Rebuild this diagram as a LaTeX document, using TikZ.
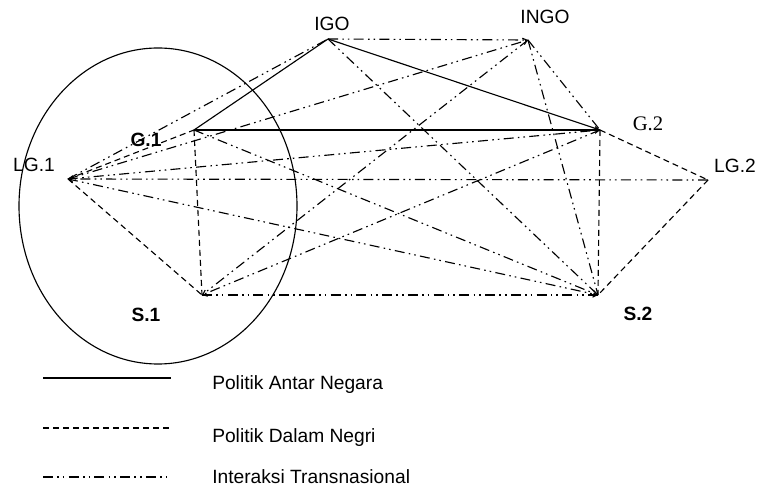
\documentclass[tikz,border=0pt]{standalone}
\usepackage{fontspec}
\setmainfont{Liberation Sans}
\newfontfamily\timesfont{Liberation Serif}
\usetikzlibrary{arrows.meta}
\begin{document}
\begin{tikzpicture}[x=0.75pt,y=-0.75pt,
  every node/.style={inner sep=0pt, font=\fontsize{14.4}{16}\selectfont},
  lnk/.style={line width=0.85pt, black},
  solidlnk/.style={lnk},
  dashlnk/.style={lnk, dash pattern=on 4.5pt off 3pt},
  ddlnk/.style={lnk, dash pattern=on 7.5pt off 3.2pt on 1.2pt off 3pt on 1.2pt off 3.2pt},
  tip/.style={-{Straight Barb[length=3pt,width=5pt]}},
  boldlbl/.style={font=\fontsize{14.4}{16}\selectfont\bfseries}
]
\useasboundingbox (0,0) rectangle (761,488);

% vertices
\coordinate (igo) at (328,39);
\coordinate (ingo) at (528,40);
\coordinate (g1) at (194,130);
\coordinate (g2) at (600,130);
\coordinate (lg1) at (68,179);
\coordinate (lg2) at (708,180);
\coordinate (s1) at (202,295);
\coordinate (s2) at (598,295);

% labels
\node (tigo) at (332,24) {IGO};
\node (tingo) at (545,17) {INGO};
\node[boldlbl] (tg1) at (146,140) {G.1};
\node (tg2) at (648,124) {\timesfont\fontsize{15.5}{17}\selectfont G.2};
\node (tlg1) at (34,165) {LG.1};
\node (tlg2) at (735,166) {LG.2};
\node[boldlbl] (ts1) at (146,315) {S.1};
\node[boldlbl] (ts2) at (638,314) {S.2};

% ellipse
\draw[line width=0.85pt] (158,206) ellipse [x radius=139, y radius=158];

% Politik Antar Negara (solid)
\draw[solidlnk] (igo) -- (g1);
\draw[solidlnk] (igo) -- (g2);
\draw[solidlnk,tip] (g1) -- (g2);

% Politik Dalam Negri (dashed)
\draw[dashlnk] (g1) -- (s1);
\draw[dashlnk] (lg1) -- (s1);
\draw[dashlnk] (lg1) -- (g1);
\draw[dashlnk] (g2) -- (s2);
\draw[dashlnk] (g2) -- (lg2);
\draw[dashlnk] (lg2) -- (s2);

% Interaksi Transnasional (dash-dot-dot)
\draw[ddlnk] (igo) -- (ingo);
\draw[ddlnk] (lg1) -- (igo);
\draw[ddlnk,tip] (lg1) -- (ingo);
\draw[ddlnk] (lg1) -- (g2);
\draw[ddlnk,tip] (lg2) -- (lg1);
\draw[ddlnk,tip] (lg1) -- (s2);
\draw[ddlnk] (g1) -- (s2);
\draw[ddlnk] (igo) -- (s2);
\draw[ddlnk] (ingo) -- (s2);
\draw[ddlnk] (ingo) -- (g2);
\draw[ddlnk] (ingo) -- (s1);
\draw[ddlnk,tip] (g2) -- (s1);
\draw[ddlnk] (s1) -- (s2);

% legend
\coordinate (la1) at (43,378); \coordinate (la2) at (171,378);
\coordinate (lb1) at (43,428); \coordinate (lb2) at (171,428);
\coordinate (lc1) at (43,477); \coordinate (lc2) at (168,477);
\draw[solidlnk] (la1) -- (la2);
\draw[dashlnk] (lb1) -- (lb2);
\draw[ddlnk] (lc1) -- (lc2);
\node[anchor=west] (leg1) at (212,385) {Politik Antar Negara};
\node[anchor=west] (leg2) at (212,438) {Politik Dalam Negri};
\node[anchor=west] (leg3) at (212,477) {Interaksi Transnasional};
\end{tikzpicture}
\end{document}
